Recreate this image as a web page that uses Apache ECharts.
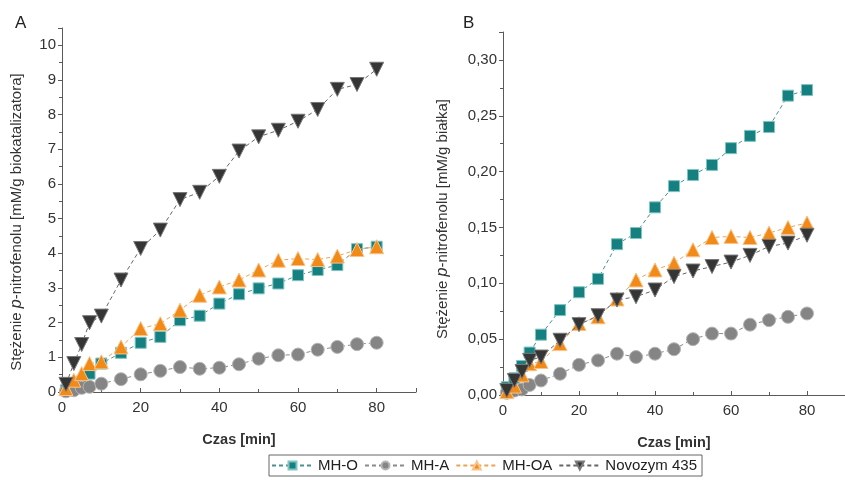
<!DOCTYPE html>
<html>
<head>
<meta charset="utf-8">
<script src="https://cdn.jsdelivr.net/npm/echarts@6/dist/echarts.min.js"></script>
<style>html,body{margin:0;padding:0;background:#fff}#c{width:845px;height:480px}</style>
</head>
<body>
<div id="c"></div>
<script>
var time = [1, 3, 5, 7, 10, 15, 20, 25, 30, 35, 40, 45, 50, 55, 60, 65, 70, 75, 80];
var seriesNames = ['MH-O', 'MH-A', 'MH-OA', 'Novozym 435'];

// Panel A: mM/g biokatalizatora
var aMHO = [0.05, 0.2, 0.3, 0.53, 0.82, 1.13, 1.42, 1.59, 2.07, 2.2, 2.55, 2.82, 2.99, 3.13, 3.37, 3.52, 3.66, 4.12, 4.19];
var aMHA = [0.02, 0.05, 0.12, 0.15, 0.24, 0.37, 0.51, 0.61, 0.72, 0.67, 0.7, 0.8, 0.96, 1.06, 1.08, 1.22, 1.3, 1.38, 1.42];
var aMHOA = [0.1, 0.34, 0.53, 0.82, 0.87, 1.3, 1.83, 1.97, 2.36, 2.79, 3.03, 3.23, 3.52, 3.8, 3.85, 3.82, 3.92, 4.11, 4.19];
var aNovo = [0.22, 0.82, 1.37, 2.0, 2.19, 3.23, 4.14, 4.67, 5.55, 5.76, 6.22, 6.95, 7.36, 7.55, 7.81, 8.15, 8.73, 8.87, 9.31];

// Panel B: mM/g białka
var bMHO = [0.007, 0.015, 0.026, 0.038, 0.054, 0.076, 0.092, 0.104, 0.135, 0.145, 0.168, 0.187, 0.197, 0.206, 0.221, 0.232, 0.240, 0.268, 0.273];
var bMHA = [0.002, 0.004, 0.005, 0.009, 0.013, 0.019, 0.027, 0.031, 0.037, 0.034, 0.037, 0.041, 0.050, 0.055, 0.055, 0.063, 0.067, 0.070, 0.073];
var bMHOA = [0.003, 0.008, 0.018, 0.028, 0.030, 0.046, 0.064, 0.070, 0.086, 0.103, 0.112, 0.118, 0.130, 0.141, 0.142, 0.141, 0.145, 0.150, 0.154];
var bNovo = [0.004, 0.013, 0.021, 0.031, 0.034, 0.049, 0.063, 0.071, 0.085, 0.088, 0.094, 0.106, 0.111, 0.115, 0.119, 0.125, 0.133, 0.136, 0.143];

var xTickLabels = ['0', '20', '40', '60', '80'];

function pairs(vals) { return time.map(function (t, i) { return [t, vals[i]]; }); }

var styles = [
  { color: '#15807f', border: '#7fc4c4', symbol: 'rect', size: 11, line: '#4f8f8f' },
  { color: '#858585', border: '#b5b5b5', symbol: 'circle', size: 13, line: '#8a8a8a' },
  { color: '#f28a17', border: '#f8c48a', symbol: 'triangle', size: 14, line: '#e9a45a' },
  { color: '#353535', border: '#777777', symbol: 'path://M0,0 L10,0 L5,9 Z', size: 14, line: '#666666' }
];

function mk(idx, gi, vals) {
  var s = styles[idx];
  return {
    name: seriesNames[idx], type: 'line', xAxisIndex: gi, yAxisIndex: gi,
    data: pairs(vals), symbol: s.symbol, symbolSize: s.size, showAllSymbol: true,
    itemStyle: { color: s.color, borderColor: s.border, borderWidth: 1 },
    lineStyle: { color: s.line, width: 1, type: [4, 3] },
    z: 2 + idx, animation: false
  };
}

var axisColor = '#5a5a5a';
var labelColor = '#333';
var FONT = 'Liberation Sans';
function xAxisDef(gi) {
  return {
    type: 'value', gridIndex: gi, min: 0, max: 90, interval: 20,
    axisLine: { lineStyle: { color: axisColor, width: 1 } },
    axisTick: { inside: true, length: 4, lineStyle: { color: axisColor } },
    minorTick: { show: true, splitNumber: 2, length: 3, lineStyle: { color: axisColor } },
    splitLine: { show: false },
    axisLabel: { color: labelColor, fontSize: 15, fontFamily: FONT, margin: 8, showMaxLabel: false,
      formatter: function (v) { var i = xTickLabels.indexOf(String(v)); return i >= 0 ? xTickLabels[i] : ''; } },
    name: 'Czas [min]', nameLocation: 'middle', nameGap: 40,
    nameTextStyle: { color: labelColor, fontSize: 14.5, fontWeight: 'bold', fontFamily: FONT }
  };
}

function yName(tail) { return '{n|Stężenie }{i|p}{n|-nitrofenolu [mM/g ' + tail + ']}'; }
var yRich = {
  n: { fontSize: 15, color: labelColor, fontFamily: FONT },
  i: { fontSize: 16, color: labelColor, fontFamily: FONT, fontStyle: 'italic' }
};

var option = {
  animation: false,
  backgroundColor: '#fff',
  title: [
    { text: 'A', left: 10, top: 10, textStyle: { fontSize: 17, fontWeight: 'normal', color: '#222', fontFamily: FONT } },
    { text: 'B', left: 458, top: 10, textStyle: { fontSize: 17, fontWeight: 'normal', color: '#222', fontFamily: FONT } }
  ],
  legend: {
    data: seriesNames, left: 269, top: 455, orient: 'horizontal',
    borderColor: '#666', borderWidth: 1, borderRadius: 0, padding: [3, 5, 3, 2],
    itemGap: 6, itemWidth: 41, itemHeight: 10,
    textStyle: { fontSize: 15, color: '#222', fontFamily: FONT }
  },
  grid: [
    { left: 62, top: 28, width: 354, height: 364 },
    { left: 503, top: 32, width: 355, height: 363 }
  ],
  xAxis: [xAxisDef(0), xAxisDef(1)],
  yAxis: [
    {
      type: 'value', gridIndex: 0, min: 0, max: 10.5, interval: 1,
      axisLine: { show: true, lineStyle: { color: axisColor } },
      axisTick: { show: true, inside: false, length: 4, lineStyle: { color: axisColor } },
      minorTick: { show: true, splitNumber: 2, length: 3, lineStyle: { color: axisColor } },
      splitLine: { show: false },
      axisLabel: { color: labelColor, fontSize: 15, fontFamily: FONT, margin: 6, showMaxLabel: false },
      name: yName('biokatalizatora'), nameLocation: 'middle', nameGap: 37,
      nameTextStyle: { padding: [0, 24, 0, 0], rich: yRich }
    },
    {
      type: 'value', gridIndex: 1, min: 0, max: 0.325, interval: 0.05,
      axisLine: { show: true, lineStyle: { color: axisColor } },
      axisTick: { show: true, inside: false, length: 4, lineStyle: { color: axisColor } },
      minorTick: { show: true, splitNumber: 2, length: 3, lineStyle: { color: axisColor } },
      splitLine: { show: false },
      axisLabel: { color: labelColor, fontSize: 15, fontFamily: FONT, margin: 6, showMaxLabel: false,
        formatter: function (v) { return v.toFixed(2).replace('.', ','); } },
      name: yName('białka'), nameLocation: 'middle', nameGap: 52,
      nameTextStyle: { padding: [0, 11, 0, 0], rich: yRich }
    }
  ],
  series: [
    mk(0, 0, aMHO), mk(1, 0, aMHA), mk(2, 0, aMHOA), mk(3, 0, aNovo),
    mk(0, 1, bMHO), mk(1, 1, bMHA), mk(2, 1, bMHOA), mk(3, 1, bNovo)
  ]
};
var chart = echarts.init(document.getElementById('c'), null, { renderer: 'canvas' });
chart.setOption(option);
</script>
</body>
</html>
